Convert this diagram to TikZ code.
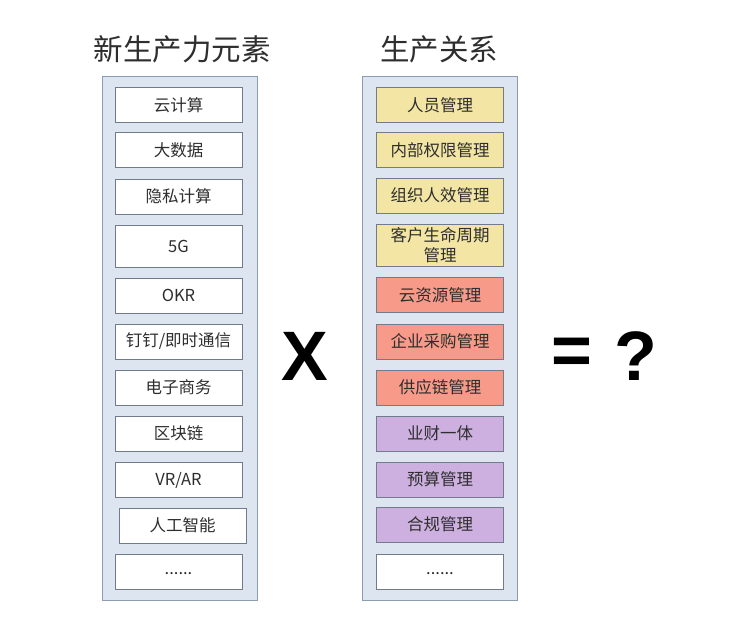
\documentclass[tikz,border=0pt]{standalone}
\usepackage{fontspec}
\usepackage{tikz}
\usepackage{xcolor}
\setmainfont{Noto Sans CJK SC}
\newfontfamily\signfont{Liberation Sans}

\definecolor{panelfill}{HTML}{DDE5F0}
\definecolor{paneldraw}{HTML}{8C9CB2}
\definecolor{itemdraw}{HTML}{707C8C}
\definecolor{peoplefill}{HTML}{F3E5A4}
\definecolor{resfill}{HTML}{F89A89}
\definecolor{finfill}{HTML}{CDB0E0}
\definecolor{inktext}{HTML}{2E2E2E}

\begin{document}
\begin{tikzpicture}[x=1pt, y=-1pt,
    panel/.style={draw=paneldraw, fill=panelfill, line width=1pt},
    item/.style={draw=itemdraw, fill=white, line width=0.9pt, minimum width=127pt, minimum height=35pt,
        inner sep=0pt, text=inktext, font=\fontsize{16.5}{19}\selectfont, align=center},
    people/.style={item, fill=peoplefill},
    res/.style={item, fill=resfill},
    fin/.style={item, fill=finfill},
    title/.style={text=inktext, font=\fontsize{29.5}{32}\selectfont},
    sign/.style={text=black, font=\signfont\bfseries\fontsize{70}{72}\selectfont}]
    \useasboundingbox (0,0) rectangle (734,633);
    % Titles
    \node[title] (forces) at (182,49) {新生产力元素};
    \node[title] (relations) at (439,49) {生产关系};
    % Panels
    \draw[panel] (102,76) rectangle (257,600);
    \draw[panel] (362,76) rectangle (517,600);
    % New productive forces
    \node[item] (cloud) at (178.5,105) {云计算};
    \node[item] (bigdata) at (178.5,150) {大数据};
    \node[item] (privacy) at (178.5,196.5) {隐私计算};
    \node[item, minimum height=42pt] (fiveg) at (178.5,246) {5G};
    \node[item] (okr) at (178.5,295.5) {OKR};
    \node[item] (im) at (178.5,341.5) {钉钉/即时通信};
    \node[item] (ecom) at (178.5,387.5) {电子商务};
    \node[item] (chain) at (178.5,433.5) {区块链};
    \node[item] (vrar) at (178.5,480) {VR/AR};
    \node[item] (ai) at (182.5,525.5) {人工智能};
    \node[item] (moreleft) at (178.5,571.5) {\smash{\raisebox{-3pt}{......}}};
    % Relations of production
    \node[people] (staff) at (440,105) {人员管理};
    \node[people] (access) at (440,150) {内部权限管理};
    \node[people] (efficiency) at (440,195.5) {组织人效管理};
    \node[people, minimum height=42pt, text width=120pt] (lifecycle) at (440,245) {客户生命周期\\[1pt]管理};
    \node[res] (cloudres) at (440,295) {云资源管理};
    \node[res] (purchase) at (440,341.5) {企业采购管理};
    \node[res] (supply) at (440,387.5) {供应链管理};
    \node[fin] (finance) at (440,433.5) {业财一体};
    \node[fin] (budget) at (440,479.5) {预算管理};
    \node[fin] (compliance) at (440,524.5) {合规管理};
    \node[item] (moreright) at (440,571.5) {\smash{\raisebox{-3pt}{......}}};
    % Signs
    \node[sign] (times) at (304.5,356) {X};
    \node[sign] (equals) at (572,356) {=};
    \node[sign] (question) at (636,356) {?};
\end{tikzpicture}
\end{document}
